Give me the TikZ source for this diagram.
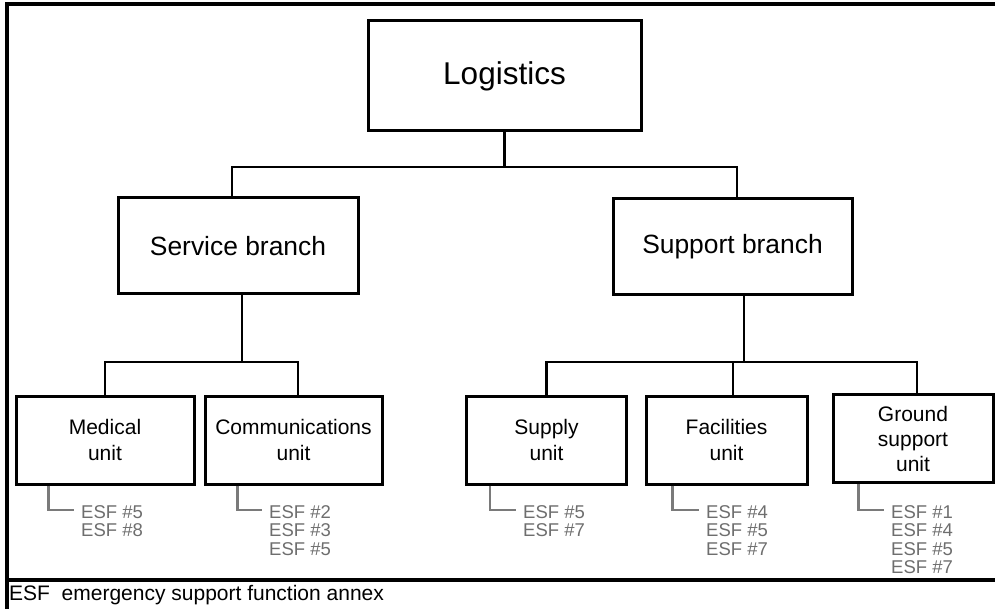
\documentclass[tikz,border=0pt]{standalone}
\usepackage{fontspec}
\setmainfont{Liberation Sans}
\definecolor{esfgray}{HTML}{6E6E6E}
\definecolor{brgray}{HTML}{7A7A7A}
\begin{document}
\begin{tikzpicture}[x=1pt,y=-1pt,
  box/.style={draw, line width=3pt, align=center, inner sep=0pt, fill=white},
  unitbox/.style={box, minimum height=88pt, font=\fontsize{21}{26}\selectfont},
  branchbox/.style={box, minimum height=96pt, font=\fontsize{26.4}{30}\selectfont},
  conn/.style={line width=2.5pt},
  gconn/.style={line width=2.5pt, draw=brgray},
  esf/.style={anchor=north west, inner sep=0pt, align=left, text=esfgray, font=\fontsize{18.5}{18.3}\selectfont},
  frame/.style={line width=3.2pt}]
\useasboundingbox (0,0) rectangle (995,609);
% frame
\coordinate (ftl) at (7,4);
\coordinate (ftr) at (996,4);
\coordinate (fbl) at (7,610);
\coordinate (fsl) at (7,580);
\coordinate (fsr) at (996,580);
\draw[frame] (ftr) -- (ftl) -- (fbl);
\draw[frame] (fsl) -- (fsr);
\node[anchor=west, inner sep=0pt, font=\fontsize{21}{24}\selectfont] (foot) at (9,595) {ESF\ \ emergency support function annex};
% boxes
\node[box, minimum width=273pt, minimum height=110pt, font=\fontsize{31.5}{36}\selectfont] (log) at (504.5,76) {Logistics};
\node[branchbox, minimum width=240pt] (serv) at (238,246) {Service branch};
\node[branchbox, minimum width=239pt] (supp) at (732.5,246.5) {Support branch};
\node[unitbox, minimum width=178pt] (med) at (105,440) {Medical\\unit};
\node[unitbox, minimum width=177pt] (com) at (293.5,440) {Communications\\unit};
\node[unitbox, minimum width=160pt] (sup) at (546.5,440) {Supply\\unit};
\node[unitbox, minimum width=161pt] (fac) at (726.5,440) {Facilities\\unit};
\node[unitbox, minimum width=160pt, font=\fontsize{21}{25}\selectfont] (gro) at (913,438.5) {Ground\\support\\unit};
% junctions
\coordinate (j1) at (504.5,167);
\coordinate (j2) at (242,362);
\coordinate (j3) at (744,362);
% connectors
\draw[conn] (log.south) -- (j1);
\draw[conn] (j1) -| ([xshift=-6pt]serv.north);
\draw[conn] (j1) -| ([xshift=4.5pt]supp.north);
\draw[conn] ([xshift=4pt]serv.south) -- (j2);
\draw[conn] (j2) -| (med.north);
\draw[conn] (j2) -| ([xshift=4.5pt]com.north);
\draw[conn] ([xshift=11.5pt]supp.south) -- (j3);
\draw[conn] (j3) -| (sup.north);
\draw[conn] (j3) -| ([xshift=6.5pt]fac.north);
\draw[conn] (j3) -| ([xshift=4pt]gro.north);
% ESF lists
\node[esf] (e1) at (81,505.5) {ESF \#5\\ESF \#8};
\node[esf] (e2) at (269,505.5) {ESF \#2\\ESF \#3\\ESF \#5};
\node[esf] (e3) at (523,505.5) {ESF \#5\\ESF \#7};
\node[esf] (e4) at (706,505.5) {ESF \#4\\ESF \#5\\ESF \#7};
\node[esf] (e5) at (891,505.5) {ESF \#1\\ESF \#4\\ESF \#5\\ESF \#7};
\draw[gconn] ([xshift=34pt]med.south west) |- ([xshift=-7pt,yshift=-4.5pt]e1.north west);
\draw[gconn] ([xshift=34pt]com.south west) |- ([xshift=-7pt,yshift=-4.5pt]e2.north west);
\draw[gconn] ([xshift=25pt]sup.south west) |- ([xshift=-7pt,yshift=-4.5pt]e3.north west);
\draw[gconn] ([xshift=28pt]fac.south west) |- ([xshift=-7pt,yshift=-4.5pt]e4.north west);
\draw[gconn] ([xshift=27pt]gro.south west) |- ([xshift=-7pt,yshift=-4.5pt]e5.north west);
\end{tikzpicture}
\end{document}
